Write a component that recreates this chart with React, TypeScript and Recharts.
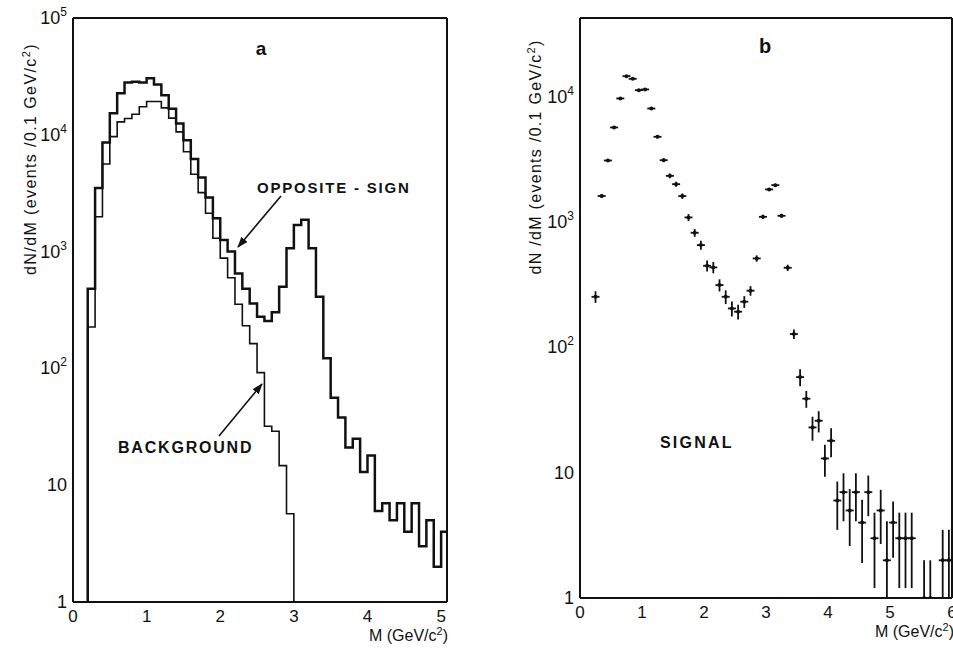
import React from 'react';
import { ComposedChart, Line, Scatter, ErrorBar, XAxis, YAxis, ReferenceLine } from 'recharts';

const INK = '#111';
const FONT = '"Liberation Sans", Arial, Helvetica, sans-serif';

// bin width and lower edge of the first filled bin (GeV/c^2)
const BIN = 0.1;
const OPP_START = 0.2;
const BKG_START = 0.2;
const SIG_START = 0.25;

// panel a: events per bin, bins 0.2-0.3 ... 5.0-5.1
const oppositeSign = [
  480, 3500, 8600, 15300, 22700, 28000, 28500, 28000, 30500, 27000,
  21800, 16700, 12500, 9000, 6200, 4300, 2900, 1930, 1260, 1000,
  650, 480, 360, 277, 255, 302, 500, 1070, 1690, 1870,
  1070, 411, 122, 56, 38, 21, 25, 13, 18, 6,
  7, 5, 7, 4, 7, 3, 5, 2, 4,
];

// panel a: like-sign background, bins 0.2-0.3 ... 2.9-3.0
const background = [
  226, 1990, 5620, 9640, 12900, 13800, 15000, 17400, 19300, 19300,
  17000, 13900, 10600, 7170, 4600, 3200, 2130, 1300, 880, 598,
  354, 232, 163, 92, 32, 29, 14.7, 5.7,
];

// panel b: signal at bin centres 0.25 ... 5.95 (null = empty bin)
const signalVal = [
  254, 1620, 3110, 5710, 9730, 14660, 13960, 11330, 11480, 8090,
  4810, 3130, 2345, 2013, 1616, 1092, 824, 657, 449, 436,
  315, 254, 205, 193, 232, 284, 514, 1104, 1828, 1977,
  1125, 433, 128, 58, 39, 23, 26, 13, 18, 6,
  7, 5, 7, 4, 7, 3, 5, 2, 4, 3,
  3, 3, null, 1, 1, null, 2, 2,
];
const signalErr = [
  27, 60, 80, 100, 150, 180, 180, 160, 160, 150,
  130, 110, 100, 90, 80, 70, 60, 55, 45, 45,
  35, 32, 28, 26, 25, 25, 30, 45, 50, 55,
  40, 25, 11, 9, 6, 5, 5, 3.7, 4.7, 2.5,
  2.9, 2.4, 2.9, 2.1, 2.5, 1.8, 2.3, 2.1, 1.9, 1.8,
  1.8, 1.8, null, 1, 1, null, 1.5, 1.5,
];

const xTicksA = [0, 1, 2, 3, 4, 5];
const xTicksB = [0, 1, 2, 3, 4, 5, 6];
const yMajorA = [1, 10, 100, 1000, 10000, 100000];
const yMajorB = [1, 10, 100, 1000, 10000];

const r2 = (v: number) => Math.round(v * 100) / 100;

function stepRows(start: number, counts: number[], dropToFloor: boolean) {
  const rows = [{ m: start, v: 1 }];
  counts.forEach((c, i) => rows.push({ m: r2(start + i * BIN), v: c }));
  const end = r2(start + counts.length * BIN);
  rows.push({ m: end, v: counts[counts.length - 1] });
  if (dropToFloor) rows.push({ m: end, v: 1 });
  return rows;
}

const oppRows = stepRows(OPP_START, oppositeSign, false);
const bkgRows = stepRows(BKG_START, background, true);

const signalRows = signalVal
  .map((v, i) => {
    const e = signalErr[i] as number;
    return v == null ? null : { m: r2(SIG_START + i * BIN), v, err: [Math.min(e, v - 1), e] };
  })
  .filter(Boolean);

function logTicks(majors: number[], top: number) {
  const out: number[] = [];
  majors.forEach((d) => {
    for (let k = 2; k <= 9; k++) if (d * k <= top) out.push(d * k);
  });
  return out;
}

const GAP = 5;

const yLabel = (props: any) => {
  const v = Number(props.payload.value);
  const exp = Math.round(Math.log10(v));
  return (
    <text x={Number(props.x) - 1} y={Number(props.y)} dy={6} textAnchor="end" fontSize={18} fill={INK} fontFamily={FONT}>
      {exp <= 1 ? String(v) : (
        <>
          10<tspan dy={-8} fontSize={12}>{exp}</tspan>
        </>
      )}
    </text>
  );
};

const xLabel = (props: any) => (
  <text x={Number(props.x)} y={Number(props.y)} dy={15} textAnchor="middle" fontSize={17} fill={INK} fontFamily={FONT}>
    {props.payload.value}
  </text>
);

const tickStroke = { stroke: INK, strokeWidth: 2 };

// plot frame as four reference lines
function frame(xMax: number, yMax: number) {
  return [
    <ReferenceLine key="fl" x={0} stroke={INK} strokeWidth={2} />,
    <ReferenceLine key="fr" x={xMax} stroke={INK} strokeWidth={2} />,
    <ReferenceLine key="fb" y={1} stroke={INK} strokeWidth={2} />,
    <ReferenceLine key="ft" y={yMax} stroke={INK} strokeWidth={2} />,
  ];
}

// inward tick marks: mirrored axes that only draw their tick lines
function innerAxes(xMax: number, yMax: number, xTicks: number[], majors: number[], minors: number[], majLen: number, minLen: number) {
  return [
    <YAxis key="ymaj" yAxisId="maj" mirror type="number" scale="log" domain={[1, yMax]} allowDataOverflow ticks={majors}
      interval={0} tick={false} axisLine={false} tickLine={tickStroke} tickSize={majLen} width={0} />,
    <YAxis key="ymin" yAxisId="min" mirror type="number" scale="log" domain={[1, yMax]} allowDataOverflow ticks={minors}
      interval={0} tick={false} axisLine={false} tickLine={tickStroke} tickSize={minLen} width={0} />,
    <XAxis key="xin" xAxisId="in" mirror type="number" domain={[0, xMax]} allowDataOverflow ticks={xTicks}
      interval={0} tick={false} axisLine={false} tickLine={tickStroke} tickSize={6} height={0} />,
  ];
}

const PlusMark = (props: any) => {
  const { cx, cy } = props;
  return (
    <g>
      <line x1={cx - 4} x2={cx + 4} y1={cy} y2={cy} stroke={INK} strokeWidth={1.8} />
      <circle cx={cx} cy={cy} r={2} fill={INK} />
    </g>
  );
};

function PanelA() {
  return (
    <ComposedChart width={480} height={648} margin={{ top: 18, right: 33, bottom: 16, left: 13 }}>
      <XAxis type="number" dataKey="m" domain={[0, 5.08]} allowDataOverflow ticks={xTicksA} interval={0}
        tick={xLabel} tickLine={false} axisLine={false} tickSize={0} tickMargin={GAP} height={30} />
      <YAxis type="number" scale="log" domain={[1, 100000]} allowDataOverflow ticks={yMajorA}
        interval={0} tick={yLabel} tickLine={false} axisLine={false} tickSize={0} tickMargin={GAP} width={60} />
      {innerAxes(5.08, 100000, xTicksA, yMajorA, logTicks(yMajorA, 100000), 12, 7)}
      {frame(5.08, 100000)}
      <Line data={bkgRows} dataKey="v" type="stepAfter" stroke={INK} strokeWidth={1.6} dot={false} isAnimationActive={false} />
      <Line data={oppRows} dataKey="v" type="stepAfter" stroke={INK} strokeWidth={2.5} dot={false} isAnimationActive={false} />
    </ComposedChart>
  );
}

function PanelB() {
  return (
    <ComposedChart width={473} height={648} margin={{ top: 18, right: 1, bottom: 20, left: 40 }}>
      <XAxis type="number" dataKey="m" domain={[0, 6]} allowDataOverflow ticks={xTicksB} interval={0}
        tick={xLabel} tickLine={false} axisLine={false} tickSize={0} tickMargin={GAP} height={30} />
      <YAxis type="number" scale="log" domain={[1, 42700]} allowDataOverflow ticks={yMajorB}
        interval={0} tick={yLabel} tickLine={false} axisLine={false} tickSize={0} tickMargin={GAP} width={60} />
      {innerAxes(6, 42700, xTicksB, yMajorB, logTicks(yMajorB, 42700), 13, 9)}
      {frame(6, 42700)}
      <Scatter data={signalRows as any[]} dataKey="v" shape={PlusMark} isAnimationActive={false}>
        <ErrorBar dataKey="err" direction="y" width={0} stroke={INK} strokeWidth={1.8} />
      </Scatter>
    </ComposedChart>
  );
}

function Notes() {
  const txt = { fontFamily: FONT, fill: INK } as const;
  return (
    <svg width={953} height={648} style={{ position: 'absolute', left: 0, top: 0, pointerEvents: 'none' }}>
      <defs>
        <marker id="head" markerUnits="userSpaceOnUse" markerWidth={11} markerHeight={8} refX={10} refY={4} orient="auto">
          <path d="M0,0 L11,4 L0,8 z" fill={INK} />
        </marker>
      </defs>
      <text x={36} y={159} transform="rotate(-90 36 159)" textAnchor="middle" fontSize={16} letterSpacing={1.4} {...txt}>
        dN/dM  (events /0.1 GeV/c<tspan dy={-6} fontSize={11}>2</tspan><tspan dy={6}>)</tspan>
      </text>
      <text x={541} y={157} transform="rotate(-90 541 157)" textAnchor="middle" fontSize={16} letterSpacing={1.3} {...txt}>
        dN /dM (events /0.1 GeV/c<tspan dy={-6} fontSize={11}>2</tspan><tspan dy={6}>)</tspan>
      </text>
      <text x={448} y={641} textAnchor="end" fontSize={16} {...txt}>
        M (GeV/c<tspan dy={-6} fontSize={11}>2</tspan><tspan dy={6}>)</tspan>
      </text>
      <text x={954} y={637} textAnchor="end" fontSize={16} {...txt}>
        M (GeV/c<tspan dy={-6} fontSize={11}>2</tspan><tspan dy={6}>)</tspan>
      </text>
      <text x={261} y={55} textAnchor="middle" fontSize={19} fontWeight="bold" {...txt}>a</text>
      <text x={765} y={53} textAnchor="middle" fontSize={20} fontWeight="bold" {...txt}>b</text>
      <text x={257} y={193} fontSize={15} fontWeight="bold" letterSpacing={1.8} {...txt}>OPPOSITE - SIGN</text>
      <text x={118} y={453} fontSize={16} fontWeight="bold" letterSpacing={1.8} {...txt}>BACKGROUND</text>
      <text x={660} y={448} fontSize={16} fontWeight="bold" letterSpacing={2.2} {...txt}>SIGNAL</text>
      <line x1={281} y1={196} x2={238} y2={247} stroke={INK} strokeWidth={1.6} markerEnd="url(#head)" />
      <line x1={219} y1={436} x2={262} y2={384} stroke={INK} strokeWidth={1.6} markerEnd="url(#head)" />
    </svg>
  );
}

export default function App() {
  return (
    <div style={{ position: 'absolute', left: 0, top: 0, width: 953, height: 648, background: '#fff' }}>
      <div style={{ position: 'absolute', left: 0, top: 0 }}>
        <PanelA />
      </div>
      <div style={{ position: 'absolute', left: 480, top: 0 }}>
        <PanelB />
      </div>
      <Notes />
    </div>
  );
}
